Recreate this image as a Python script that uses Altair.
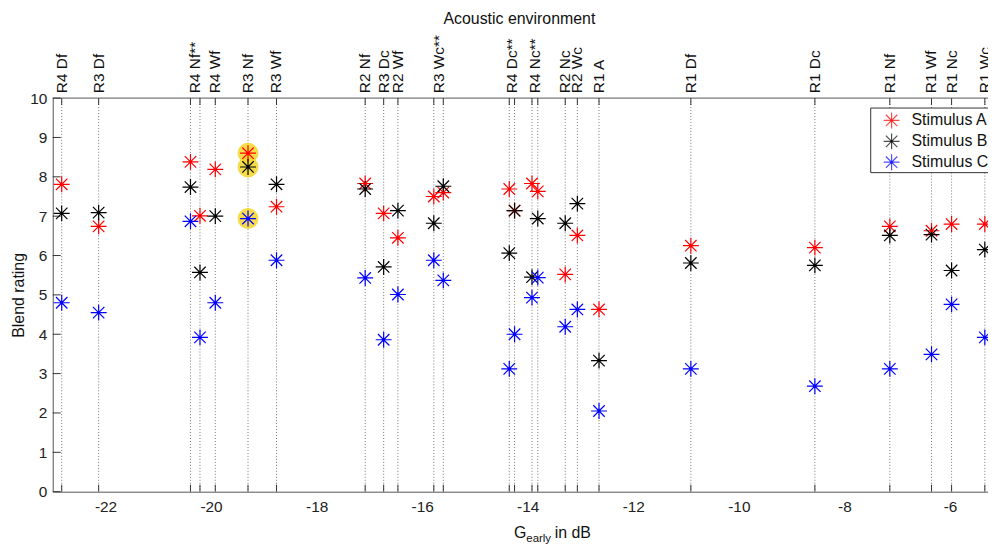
import altair as alt
import pandas as pd

# ---- data ----
environments = ["R4 Df", "R3 Df", "R4 Nf**", "R4 Nf**", "R4 Wf", "R3 Nf", "R3 Wf",
                "R2 Nf", "R3 Dc", "R2 Wf", "R3 Wc**", "R3 Wc**", "R4 Dc**", "R4 Dc**",
                "R4 Nc**", "R4 Nc**", "R2 Nc", "R2 Wc", "R1 A", "R1 Df", "R1 Dc",
                "R1 Nf", "R1 Wf", "R1 Nc", "R1 Wc"]
g_early = [-22.83, -22.13, -20.39, -20.21, -19.92, -19.30, -18.76,
           -17.08, -16.73, -16.46, -15.78, -15.60, -14.35, -14.25,
           -13.92, -13.81, -13.29, -13.06, -12.65, -10.91, -8.56,
           -7.14, -6.35, -5.97, -5.34]
stim_a = [7.81, 6.74, 8.38, 7.01, 8.19, 8.60, 7.24, 7.83, 7.07, 6.45, 7.50, 7.60, 7.69,
          7.14, 7.83, 7.63, 5.52, 6.51, 4.63, 6.25, 6.20, 6.74, 6.63, 6.80, 6.80]
stim_b = [7.07, 7.09, 7.74, 5.57, 7.00, 8.25, 7.81, 7.69, 5.71, 7.14, 6.82, 7.76, 6.06,
          7.14, 5.45, 6.94, 6.82, 7.32, 3.33, 5.81, 5.75, 6.51, 6.53, 5.62, 6.15]
stim_c = [4.80, 4.55, 6.87, 3.92, 4.80, 6.94, 5.88, 5.43, 3.86, 5.01, 5.88, 5.37, 3.12,
          4.00, 4.93, 5.44, 4.19, 4.63, 2.05, 3.12, 2.68, 3.12, 3.49, 4.76, 3.92]
stimuli = ["Stimulus A", "Stimulus B", "Stimulus C"]
colors = ["#ff0000", "#000000", "#0000ff"]
highlight_env = "R3 Nf"
x_ticks = [-22, -20, -18, -16, -14, -12, -10, -8, -6]
y_ticks = [0, 1, 2, 3, 4, 5, 6, 7, 8, 9, 10]

# ---- tables ----
lines = pd.DataFrame({"env": environments, "g": g_early})
labels = lines.groupby("env", sort=False, as_index=False)["g"].mean()
rows = []
for name, vals in zip(stimuli, [stim_a, stim_b, stim_c]):
    for env, g, v in zip(environments, g_early, vals):
        rows.append({"env": env, "g": g, "rating": v, "stimulus": name})
pts = pd.DataFrame(rows)
hl = pts[pts["env"] == highlight_env]
yt = pd.DataFrame({"y": y_ticks})

W, H = 941, 396
FONT = "Liberation Sans"
STAR = "M-1,0L1,0M0,-1L0,1M-0.72,-0.72L0.72,0.72M-0.72,0.72L0.72,-0.72"
AX = "#555555"

xscale = alt.Scale(domain=[-23, -5.28], nice=False, zero=False)
yscale = alt.Scale(domain=[0, 10], nice=False, zero=True)
cscale = alt.Scale(domain=stimuli, range=colors)

xaxis = alt.Axis(values=x_ticks, ticks=False, grid=False, domainColor=AX,
                 labelFontSize=15.5, labelPadding=8, labelColor="#222", labelOverlap=False,
                 labelExpr="datum.value < 0 ? '-' + abs(datum.value) : '' + datum.value",
                 title=None)
yaxis = alt.Axis(values=y_ticks, tickCount=11, ticks=False, grid=False, domainColor=AX,
                 labelFontSize=15.5, labelPadding=6, labelColor="#222", labelOverlap=False,
                 title="Blend rating", titleFontSize=16, titleFontWeight="normal",
                 titleColor="#111", titleX=-34, titleY=H / 2, titleAngle=270,
                 titleAlign="center", titleBaseline="middle")


def X(field):
    return alt.X(field, type="quantitative", scale=xscale, axis=xaxis)


def Y(field):
    return alt.Y(field, type="quantitative", scale=yscale, axis=yaxis)


vlines = alt.Chart(lines).mark_rule(strokeDash=[1, 2], color="#777", strokeWidth=1).encode(
    x=X("g"))
top_ticks = alt.Chart(lines).mark_rule(color="#333").encode(
    x=X("g"), y=alt.value(0), y2=alt.value(7))
bot_ticks = alt.Chart(lines).mark_rule(color="#333").encode(
    x=X("g"), y=alt.value(H), y2=alt.value(H - 7))
top_line = alt.Chart(yt.head(1)).mark_rule(color=AX).encode(
    x=alt.value(0), x2=alt.value(W), y=alt.value(0))
y_inticks = alt.Chart(yt).mark_rule(color="#333").encode(
    y=Y("y"), x=alt.value(0), x2=alt.value(8))

highlight = alt.Chart(hl).mark_point(shape="circle", filled=True, size=440,
                                      color="#f4d62a", opacity=0.85).encode(
    x=X("g"), y=Y("rating"))
stars = alt.Chart(pts).mark_point(shape=STAR, filled=False, size=256, strokeWidth=1.2,
                                  opacity=1).encode(
    x=X("g"), y=Y("rating"),
    color=alt.Color("stimulus:N", scale=cscale, legend=None))
dots = alt.Chart(pts).mark_point(shape="circle", filled=True, size=7, opacity=1).encode(
    x=X("g"), y=Y("rating"),
    color=alt.Color("stimulus:N", scale=cscale, legend=None))

top_labels = alt.Chart(labels).mark_text(angle=270, align="left", baseline="middle",
                                         fontSize=15.5, font=FONT, color="#111").encode(
    x=X("g"), y=alt.value(-5), text="env:N")

one = pd.DataFrame({"t": ["Acoustic environment"]})
title = alt.Chart(one).mark_text(fontSize=16, font=FONT, color="#111", baseline="middle").encode(
    x=alt.value(W / 2 - 1), y=alt.value(-80), text="t:N")

xt1 = alt.Chart(pd.DataFrame({"t": ["G"]})).mark_text(
    fontSize=16, font=FONT, color="#111", align="left", baseline="middle").encode(
    x=alt.value(464), y=alt.value(438), text="t:N")
xt2 = alt.Chart(pd.DataFrame({"t": ["early"]})).mark_text(
    fontSize=11.5, font=FONT, color="#111", align="left", baseline="middle").encode(
    x=alt.value(476.5), y=alt.value(444), text="t:N")
xt3 = alt.Chart(pd.DataFrame({"t": ["in dB"]})).mark_text(
    fontSize=16, font=FONT, color="#111", align="left", baseline="middle").encode(
    x=alt.value(505), y=alt.value(438), text="t:N")

# legend (drawn manually, clipped at the right like the reference)
leg_layers = [alt.Chart(one).mark_rect(fill="white", stroke="#333", strokeWidth=1).encode(
    x=alt.value(823), x2=alt.value(1000), y=alt.value(10), y2=alt.value(75))]
for i, (name, col) in enumerate(zip(stimuli, colors)):
    yy = 22.5 + 21 * i
    d = pd.DataFrame({"t": [name]})
    leg_layers.append(alt.Chart(d).mark_point(shape=STAR, filled=False, size=256,
                                              strokeWidth=1.2, color=col).encode(
        x=alt.value(844), y=alt.value(yy)))
    leg_layers.append(alt.Chart(d).mark_point(shape="circle", filled=True, size=7,
                                              color=col).encode(
        x=alt.value(844), y=alt.value(yy)))
    leg_layers.append(alt.Chart(d).mark_text(fontSize=16, font=FONT, color="#111",
                                             align="left", baseline="middle").encode(
        x=alt.value(864), y=alt.value(yy), text="t:N"))

chart = alt.layer(vlines, top_ticks, bot_ticks, top_line, y_inticks, highlight, stars, dots,
                  top_labels, title, xt1, xt2, xt3, *leg_layers).properties(
    width=W, height=H,
    autosize=alt.AutoSizeParams(type="none"),
    padding={"left": 45, "top": 89, "right": 0, "bottom": 53},
).configure(font=FONT).configure_view(stroke=None).configure_axis(
    labelFont=FONT, titleFont=FONT)

chart.save("out.html", embed_options={"renderer": "svg", "actions": False})
